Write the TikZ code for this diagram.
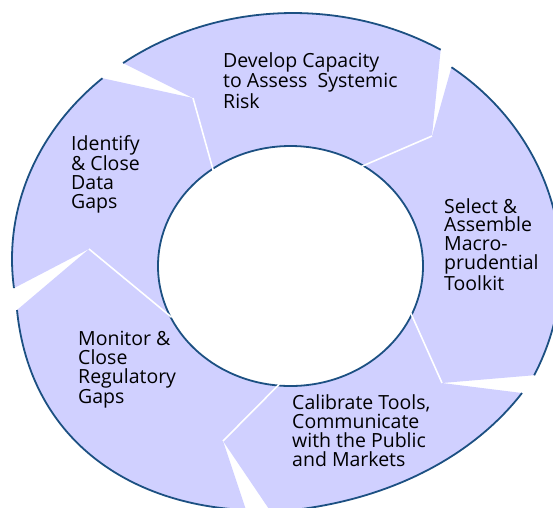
\documentclass[tikz,border=0pt]{standalone}
\usepackage{fontspec}
\setmainfont{Open Sans}
\usetikzlibrary{calc}

\definecolor{segfill}{RGB}{208,208,255}
\definecolor{ringblue}{RGB}{28,80,130}

\tikzset{
  seg/.style={fill=segfill},
  rim/.style={draw=ringblue, line width=1.8pt},
  cut/.style={draw=white, line width=1.6pt, shorten >=-2pt},
  lbl/.style={anchor=base west, align=left, inner sep=0pt, text=black,
              font=\fontsize{19.5}{18.8}\selectfont}
}

\begin{document}
\begin{tikzpicture}[x=1pt, y=-1pt]
\useasboundingbox (0,0) rectangle (553,507);
\clip (0,0) rectangle (553,507);

% centres
\coordinate (oc) at (293,259);
\coordinate (oc2) at (298,267);
\coordinate (mid) at (290.5,266);

% notch tips
\coordinate (ta) at (193,98);
\coordinate (tb) at (432,136);
\coordinate (tc) at (442,383);
\coordinate (td) at (223,441);
\coordinate (te) at (89,249);

% inner ends of the notches
\coordinate (ia) at ($(mid)+(234.1:132.5 and 120)$);
\coordinate (ib) at ($(mid)+(303.3:132.5 and 120)$);
\coordinate (ic) at ($(mid)+(24:132.5 and 120)$);
\coordinate (id) at ($(mid)+(95.4:132.5 and 120)$);
\coordinate (ie) at ($(mid)+(155.4:132.5 and 120)$);

% outer ends of the two lower segments
\coordinate (c0) at (522,393);
\coordinate (c1) at (271,512);
\coordinate (m0) at (246,510);
\coordinate (m1) at (17,310);

% segments
\fill[seg] (ie) -- (te) -- ($(oc)+(173.2:281 and 246)$)
   arc[start angle=173.2, end angle=227.3, x radius=281, y radius=246]
   -- (ta) -- (ia) arc[start angle=234.1, end angle=155.4, x radius=132.5, y radius=120] -- cycle;
\fill[seg] (ia) -- (ta) -- ($(oc)+(232.8:281 and 246)$)
   arc[start angle=232.8, end angle=301.7, x radius=281, y radius=246]
   -- (tb) -- (ib) arc[start angle=303.3, end angle=234.1, x radius=132.5, y radius=120] -- cycle;
\fill[seg] (ib) -- (tb) -- ($(oc2)+(-54.3:263 and 246)$)
   arc[start angle=-54.3, end angle=26.1, x radius=263, y radius=246]
   -- (tc) -- (ic) arc[start angle=24, end angle=-56.7, x radius=132.5, y radius=120] -- cycle;
\fill[seg] (ic) -- (tc) -- (c0) .. controls (470,460) and (380,505) .. (c1)
   -- (td) -- (id) arc[start angle=95.4, end angle=24, x radius=132.5, y radius=120] -- cycle;
\fill[seg] (id) -- (td) -- (m0) .. controls (130,505) and (30,440) .. (m1)
   -- (te) -- (ie) arc[start angle=155.4, end angle=95.4, x radius=132.5, y radius=120] -- cycle;

% outer rims
\draw[rim] ($(oc)+(173.2:281 and 246)$) arc[start angle=173.2, end angle=227.3, x radius=281, y radius=246];
\draw[rim] ($(oc)+(232.8:281 and 246)$) arc[start angle=232.8, end angle=301.7, x radius=281, y radius=246];
\draw[rim] ($(oc2)+(-54.3:263 and 246)$) arc[start angle=-54.3, end angle=26.1, x radius=263, y radius=246];
\draw[rim] (c0) .. controls (470,460) and (380,505) .. (c1);
\draw[rim] (m0) .. controls (130,505) and (30,440) .. (m1);

% inner rim
\draw[rim] (mid) ellipse [x radius=132.5, y radius=120];

\foreach \g in {a,b,c,d,e}
  \draw[cut] (t\g) -- (i\g);

% labels, placed at the baseline of their last line
\node[lbl] (develop) at (223,108) {Develop Capacity\\to Assess~ Systemic\\Risk};
\node[lbl] (identify) at (71,208.5) {Identify\\\& Close\\Data\\Gaps};
\node[lbl] (select) at (444,290) {Select \&\\Assemble\\Macro-\\prudential\\Toolkit};
\node[lbl] (calibrate) at (292,466) {Calibrate Tools,\\Communicate\\with the Public\\and Markets};
\node[lbl] (monitor) at (78,403) {Monitor \&\\Close\\Regulatory\\Gaps};
\end{tikzpicture}
\end{document}
